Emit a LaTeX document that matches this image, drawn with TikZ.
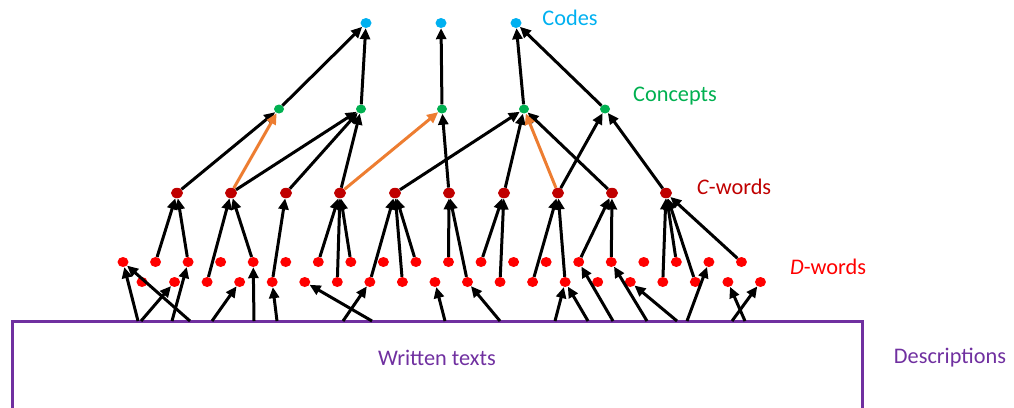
\documentclass[tikz,border=0pt]{standalone}
\usepackage{fontspec}
\setmainfont{Carlito}
\usepackage{xcolor}
\usepackage{tikz}
\usetikzlibrary{arrows.meta}
\usetikzlibrary{shapes.geometric}

\definecolor{codeblue}{HTML}{00B0F0}
\definecolor{conceptgreen}{HTML}{00B050}
\definecolor{cwordred}{HTML}{C00000}
\definecolor{dwordred}{HTML}{FF0000}
\definecolor{linkorange}{HTML}{ED7D31}
\definecolor{textpurple}{HTML}{7030A0}

\begin{document}
\begin{tikzpicture}[x=1pt,y=-1pt,
		dot/.style={ellipse, inner sep=0pt, minimum width=11pt, minimum height=10pt},
		arr/.style={line width=3pt, -{Triangle[length=11pt,width=10pt]}},
		lbl/.style={font=\fontsize{22.3}{26}\selectfont, inner sep=0pt}]
		\useasboundingbox (0,0) rectangle (1014,407);

		% Written texts
		\draw [textpurple, line width=3pt] (12,440) -- (12,321) -- (862,321) -- (862,440);
		\node (texts) at (437,358) [lbl, textpurple] {Written texts};
		\node (descr) at (950,358) [lbl, textpurple] {Descriptions};

		% D-words, two staggered rows
		\foreach \i in {0,...,19} {
			\node (Dup\i) at (123+32.55*\i,262) [dot, fill=dwordred] {};
			\node (Dlo\i) at (142+32.55*\i,282) [dot, fill=dwordred] {};
		}
		\node (Dlab) at (828,267) [lbl, dwordred] {\textit{D}-words};

		% C-words
		\foreach \x [count=\i] in {177,231,286,340,395,449,504,558,612,666}
			\node (CW\i) at (\x,193) [dot, fill=cwordred, minimum width=12pt, minimum height=10.5pt] {};
		\node (Clab) at (734,187) [lbl, cwordred] {\textit{C}-words};

		% Concepts
		\foreach \x [count=\i] in {279,361,442,524,605}
			\node (CP\i) at (\x,109) [dot, fill=conceptgreen, minimum width=10pt, minimum height=9pt] {};
		\node (Plab) at (675,96) [lbl, conceptgreen] {Concepts};

		% Codes
		\foreach \x [count=\i] in {366,441,516}
			\node (CD\i) at (\x,23) [dot, fill=codeblue] {};
		\node (Olab) at (570,18) [lbl, codeblue] {Codes};

		% Start points on the top edge of the texts box
		\foreach \x [count=\i] in {138,141,190,172,212,254,277,372,343,445,500,555,588,613,647,677,687,745,732}
			\coordinate (b\i) at (\x,321);

		% Texts to D-words
		\foreach \a/\b in {b1/Dup0,b2/Dlo1,b3/Dup0,b4/Dup2,b5/Dlo3,b6/Dup4,b7/Dlo4,b8/Dlo5,b9/Dlo7,b10/Dlo9,
				b11/Dlo10,b12/Dlo13,b13/Dlo13,b14/Dup14,b15/Dup15,b16/Dlo15,b17/Dup18,b18/Dlo18,b19/Dlo19}
			\draw [arr] (\a) -- (\b);

		% D-words to C-words
		\foreach \a/\b in {Dup1/CW1,Dup2/CW1,Dlo2/CW2,Dup4/CW2,Dlo4/CW3,Dup6/CW4,Dlo6/CW4,Dup7/CW4,
				Dlo7/CW5,Dlo8/CW5,Dup9/CW5,Dup10/CW6,Dlo10/CW6,Dup11/CW7,Dlo11/CW7,Dlo12/CW8,Dlo13/CW8,
				Dup14/CW9,Dup15/CW9,Dlo16/CW10,Dup17/CW10,Dlo17/CW10,Dup19/CW10}
			\draw [arr] (\a) -- (\b);

		% C-words to concepts
		\foreach \a/\b in {CW1/CP1,CW2/CP2,CW3/CP2,CW4/CP2,CW6/CP3,CW5/CP4,CW7/CP4,CW9/CP4,CW8/CP5,CW10/CP5}
			\draw [arr] (\a) -- (\b);
		\draw [arr, linkorange] (CW2) -- (CP1);
		\draw [arr, linkorange] (CW4) -- (CP3);
		\draw [arr, linkorange] (CW8) -- (CP4);

		% Concepts to codes
		\foreach \a/\b in {CP1/CD1,CP2/CD1,CP3/CD2,CP4/CD3,CP5/CD3}
			\draw [arr] (\a) -- (\b);
\end{tikzpicture}
\end{document}
